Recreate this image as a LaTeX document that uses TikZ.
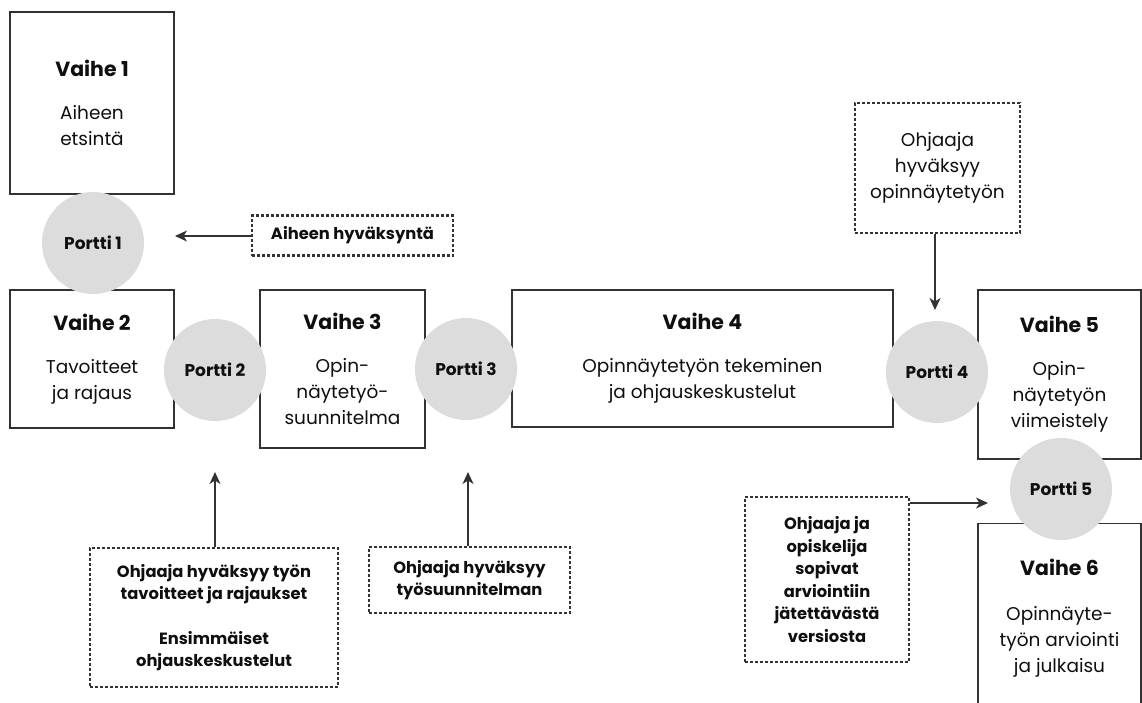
\documentclass[tikz,border=0pt]{standalone}
\usepackage{fontspec}
\setmainfont{Poppins}
\usetikzlibrary{arrows.meta}
\definecolor{edge}{RGB}{50,50,50}
\definecolor{gatefill}{RGB}{220,220,220}
\definecolor{ink}{RGB}{15,15,15}
\newcommand{\vtitle}{\fontsize{20.5}{26}\selectfont\bfseries}
\begin{document}
\begin{tikzpicture}[x=1pt,y=-1pt,
  stagebox/.style={draw=edge,line width=1.4pt,fill=white,inner sep=0pt,align=center,text=ink,
    font=\fontsize{18.5}{26}\selectfont},
  gate/.style={circle,fill=gatefill,inner sep=0pt,minimum size=102pt,text=ink,
    font=\fontsize{17}{20}\selectfont\bfseries},
  notebox/.style={draw=edge,line width=2.2pt,dash pattern=on 3pt off 2pt,inner sep=0pt,align=center,text=ink},
  boldnote/.style={notebox,font=\fontsize{16.3}{22.5}\selectfont\bfseries},
  plainnote/.style={notebox,font=\fontsize{18.5}{26}\selectfont},
  conn/.style={draw=edge,line width=1.5pt,-{Stealth[length=12pt,width=11pt,inset=3.5pt]}}]
\useasboundingbox (0,0) rectangle (1142,702);
\clip (0,0) rectangle (1142,702);
% stages
\node[stagebox,minimum width=164pt,minimum height=182pt] (v1) at (92,103)
  {{\vtitle Vaihe 1}\\[17pt]Aiheen\\etsintä};
\node[stagebox,minimum width=164pt,minimum height=138pt] (v2) at (92,359)
  {{\vtitle Vaihe 2}\\[17pt]Tavoitteet\\ja rajaus};
\node[stagebox,minimum width=165pt,minimum height=158pt] (v3) at (342.5,369)
  {{\vtitle Vaihe 3}\\[17pt]Opin-\\näytetyö-\\suunnitelma};
\node[stagebox,minimum width=381pt,minimum height=137pt] (v4) at (702.5,358.5)
  {{\vtitle Vaihe 4}\\[17pt]Opinnäytetyön tekeminen\\ja ohjauskeskustelut};
\node[stagebox,minimum width=163pt,minimum height=169pt] (v5) at (1059.5,374.5)
  {{\vtitle Vaihe 5}\\[17pt]Opin-\\näytetyön\\viimeistely};
\node[stagebox,minimum width=163pt,minimum height=188pt,anchor=north] (v6) at (1059.5,523)
  {{\vtitle Vaihe 6}\\[19pt]Opinnäyte-\\työn arviointi\\ja julkaisu};
% gates
\node[gate] (p1) at (93,243) {Portti 1};
\node[gate] (p2) at (215,370) {Portti 2};
\node[gate] (p3) at (466,369) {Portti 3};
\node[gate] (p4) at (937,372) {Portti 4};
\node[gate] (p5) at (1061,489) {Portti 5};
% notes
\node[boldnote,minimum width=201pt,minimum height=40pt] (n1) at (352.5,235.5) {Aiheen hyväksyntä};
\node[boldnote,minimum width=248pt,minimum height=139pt] (n2) at (214,617.5)
  {Ohjaaja hyväksyy työn\\tavoitteet ja rajaukset\\[22pt]Ensimmäiset\\ohjauskeskustelut};
\node[boldnote,minimum width=201pt,minimum height=66pt] (n3) at (469.5,580)
  {Ohjaaja hyväksyy\\työsuunnitelman};
\node[plainnote,minimum width=165pt,minimum height=130pt] (n4) at (937.5,168)
  {Ohjaaja\\hyväksyy\\opinnäytetyön};
\node[boldnote,minimum width=164pt,minimum height=165pt] (n5) at (827,579.5)
  {Ohjaaja ja\\opiskelija\\sopivat\\arviointiin\\jätettävästä\\versiosta};
% arrow ends
\coordinate (e1) at (175,236);
\coordinate (e2) at (215,472);
\coordinate (e3) at (468,472);
\coordinate (e4) at (935,310);
\coordinate (e5) at (988,503);
\draw[conn] (n1.west |- e1) -- (e1);
\draw[conn] (n2.north -| e2) -- (e2);
\draw[conn] (n3.north -| e3) -- (e3);
\draw[conn] (n4.south -| e4) -- (e4);
\draw[conn] (n5.east |- e5) -- (e5);
\end{tikzpicture}
\end{document}
